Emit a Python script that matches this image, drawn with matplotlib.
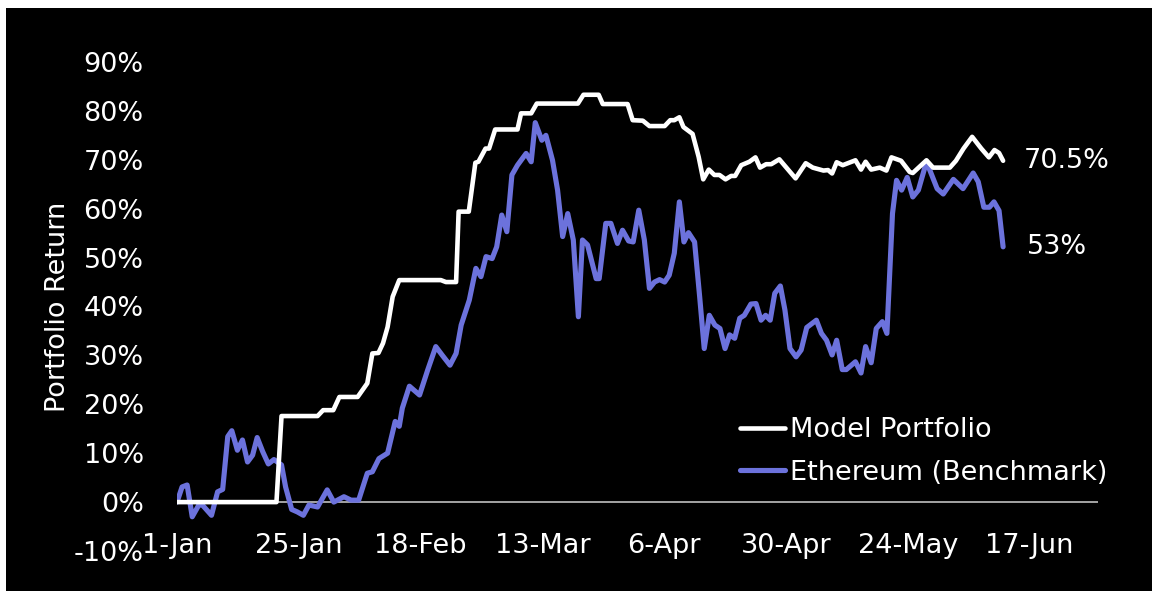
import numpy as np
import pandas as pd
import matplotlib
matplotlib.use('Agg')
import matplotlib.pyplot as plt
import matplotlib.dates as mdates
from matplotlib.patches import Rectangle

# 数据: 从 2024-01-01 起的天数 -> 收益率 (%)
start = pd.Timestamp('2024-01-01')

model_days = [0, 19.6, 20.6, 27.7, 28.8, 30.8, 32, 35.6, 37.5, 38.5,
              39.7, 40.6, 41.5, 42.5, 43.8, 52, 53, 55, 55.5, 57.5,
              58.8, 59.4, 60.8, 61.5, 62.7, 67.1, 67.8, 69.8, 70.9, 79,
              80.1, 83.1, 83.9, 88.8, 89.8, 91.8, 93.1, 96.1, 97.2, 98,
              99, 99.8, 101.6, 102.8, 103.7, 104.8, 105.9, 106.9, 108.1, 109.2,
              110, 111.2, 112.8, 114, 114.9, 116.1, 117.1, 118.7, 121.9, 123.9,
              125.3, 127.4, 128.3, 129.1, 130, 131.2, 133.7, 134.8, 135.7, 136.8,
              138.5, 139.8, 140.8, 142.7, 144.4, 145, 147.7, 149, 152.3, 153.5,
              155, 156.7, 158.5, 160, 161.1, 162, 162.8]
model_vals = [0, 0, 17.6, 17.6, 18.8, 18.8, 21.5, 21.5, 24.3, 30.4,
              30.5, 32.5, 35.8, 42, 45.4, 45.4, 45, 45, 59.4, 59.4,
              69.4, 69.6, 72.3, 72.3, 76.2, 76.2, 79.5, 79.5, 81.5, 81.5,
              83.3, 83.3, 81.4, 81.4, 78.1, 78, 76.9, 76.9, 78.1, 78.1,
              78.7, 76.7, 75.3, 70.6, 66, 68, 66.9, 66.9, 66, 66.7,
              66.7, 68.9, 69.6, 70.5, 68.4, 69.1, 69.1, 70.1, 66.2, 69.3,
              68.4, 67.8, 67.9, 67.2, 69.5, 68.9, 69.9, 68, 69.6, 68,
              68.4, 67.8, 70.5, 69.8, 67.5, 67.3, 69.9, 68.4, 68.4, 69.8,
              72.3, 74.7, 72.3, 70.5, 72, 71.4, 69.8]

eth_days = [0, 1, 2, 3, 4.3, 5, 6.8, 8, 9, 10,
            10.8, 11.9, 12.9, 13.9, 14.9, 15.8, 16.9, 18, 19.1, 20.6,
            21.4, 22.6, 23.7, 24.9, 26, 27.7, 29.6, 30.9, 32.9, 34.3,
            35.8, 37.5, 38.5, 39.8, 41.5, 43, 43.8, 44.4, 45.8, 47.8,
            49.4, 51, 52.3, 53.8, 55, 56, 57.6, 58.9, 59.9, 60.9,
            62.1, 63, 64, 65, 66, 67.1, 68.8, 69.8, 70.6, 71.9,
            72.7, 74, 75, 76, 77, 78.1, 79.1, 79.9, 80.9, 82.6,
            83.2, 84.5, 85.5, 86.8, 87.8, 89, 89.9, 91, 92.1, 93.1,
            94.1, 95.1, 96.1, 97, 98, 99, 99.9, 100.8, 102, 103,
            103.9, 104.9, 106, 107, 108, 108.9, 109.9, 110.9, 111.8, 113.1,
            114.1, 115.1, 116, 116.9, 117.8, 118.9, 119.8, 120.8, 122, 123,
            124.1, 126, 127, 128, 129.1, 130, 131.1, 131.9, 133.7, 134.8,
            135.7, 136.8, 137.8, 139, 139.9, 141, 141.8, 142.8, 143.9, 145,
            146.1, 147.7, 149.8, 151, 153, 154.9, 156.9, 157.9, 159, 160.1,
            161, 162, 162.8]
eth_vals = [0, 3.1, 3.5, -3, -0.6, -0.6, -2.7, 2.1, 2.6, 13.4,
            14.6, 10.6, 12.7, 8.2, 9.6, 13.2, 10.3, 7.8, 8.7, 7.6,
            3.1, -1.5, -2, -2.7, -0.6, -1, 2.5, 0, 1.1, 0.4,
            0.4, 5.9, 6.2, 8.9, 10, 16.5, 15.5, 19.2, 23.7, 21.9,
            27, 31.8, 30, 28, 30.4, 36.2, 41.3, 47.8, 46.1, 50.2,
            49.8, 52.2, 58.7, 55.3, 66.9, 68.9, 71.3, 69.6, 77.6, 74,
            75, 69.9, 63.8, 54.3, 59, 53.6, 37.9, 53.6, 52.6, 45.7,
            45.7, 57, 57, 52.9, 55.6, 53.4, 53.2, 59.7, 53.6, 43.7,
            45, 45.5, 45, 46.4, 50.9, 61.4, 53.2, 55.1, 53.2, 42,
            31.4, 38.2, 36.2, 35.5, 31.4, 34.2, 33.5, 37.6, 38.2, 40.5,
            40.6, 37.2, 38.2, 37.2, 42.7, 44.2, 39.3, 31.4, 29.7, 31.1,
            35.7, 37.2, 34.5, 33.1, 30.1, 33.1, 27.1, 27.1, 28.7, 26.4,
            31.8, 28.5, 35.5, 36.9, 34.5, 59, 65.8, 63.8, 66.4, 62.4,
            63.8, 69.6, 64.1, 63, 66, 64.1, 67.3, 65.5, 60.3, 60.3,
            61.4, 59.6, 52.2]

end_labels = ['70.5%', '53%']
tick_days = [0, 24, 48, 72, 96, 120, 144, 168]
y_ticks = [-10, 0, 10, 20, 30, 40, 50, 60, 70, 80, 90]

model_x = start + pd.to_timedelta(model_days, unit='D')
eth_x = start + pd.to_timedelta(eth_days, unit='D')

plt.rcParams['font.family'] = ['DejaVu Sans']
fs = 19.5

fig = plt.figure(figsize=(11.52, 5.91), dpi=100, facecolor='black')
# 左边和上边的白色边
fig.add_artist(Rectangle((0, 1 - 8 / 591), 1, 8 / 591, transform=fig.transFigure,
                         facecolor='white', edgecolor='none'))
fig.add_artist(Rectangle((0, 0), 6 / 1152, 1, transform=fig.transFigure,
                         facecolor='white', edgecolor='none'))

ax = fig.add_axes([177 / 1152, 40 / 591, 921 / 1152, 489 / 591])
ax.set_facecolor('black')

ax.axhline(0, color='#bfbfbf', lw=1.2, zorder=1)
ax.plot(model_x, model_vals, color='white', lw=3.3, label='Model Portfolio',
        solid_joinstyle='round', solid_capstyle='round', zorder=3)
ax.plot(eth_x, eth_vals, color='#6c72dc', lw=3.7, label='Ethereum (Benchmark)',
        solid_joinstyle='round', solid_capstyle='round', zorder=2)

# 末端数值标签
ax.annotate(end_labels[0], xy=(model_x[-1], model_vals[-1]), xytext=(15, 0),
            textcoords='offset points', color='white', fontsize=fs, va='center')
ax.annotate(end_labels[1], xy=(eth_x[-1], eth_vals[-1]), xytext=(17, 0),
            textcoords='offset points', color='white', fontsize=fs, va='center')

ax.set_xlim(start, start + pd.Timedelta(days=181.5))
ax.set_ylim(-10, 90)
ax.set_xticks(start + pd.to_timedelta(tick_days, unit='D'))
ax.xaxis.set_major_formatter(mdates.DateFormatter('%-d-%b'))
ax.set_yticks(y_ticks)
ax.set_yticklabels([f'{v}%' for v in y_ticks])
ax.tick_params(axis='both', length=0, colors='white', labelsize=fs)
ax.tick_params(axis='x', pad=-13)
ax.tick_params(axis='y', pad=24)
for s in ax.spines.values():
    s.set_visible(False)

ax.set_ylabel('Portfolio Return', color='white', fontsize=fs)
ax.yaxis.set_label_coords(-0.115, 0.5)

leg = ax.legend(loc='upper left', bbox_to_anchor=(740 / 1152, 1 - 417 / 591),
                bbox_transform=fig.transFigure, frameon=False, borderpad=0,
                borderaxespad=0, fontsize=fs, labelcolor='white', handlelength=1.65,
                handletextpad=0.2, labelspacing=0.62)

fig.savefig('out.png', dpi=100, facecolor=fig.get_facecolor())
